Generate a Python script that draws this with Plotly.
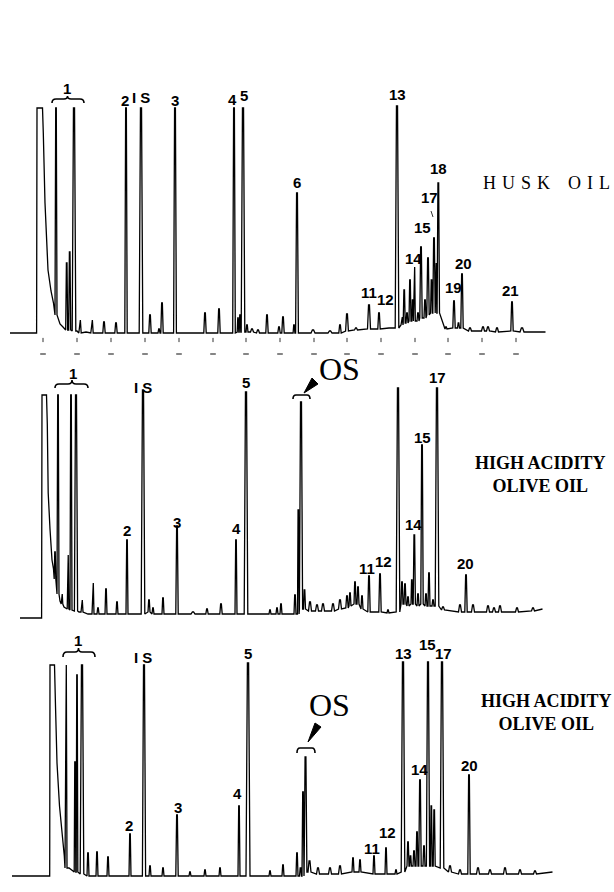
import plotly.graph_objects as go

W, H = 614, 892

# ---------------- data (x = chart position, h = response above baseline) ----------------
# HUSK OIL (top)
top_front_x = [10, 36.6, 37.0, 42.5, 43.3, 45, 48, 51, 53.5, 60, 63, 77, 86, 98]
top_front_h = [0, 0, 225, 225, 200, 130, 63, 42, 30, 9, 6, 2, 1, 0]
top_rt = [56, 66.7, 69.7, 74, 80, 92, 104, 116, 126, 141, 150, 159, 162, 175, 205, 219, 234, 238, 240,
          243, 247, 252, 258, 267, 279, 283, 294, 297, 313, 330, 340, 347, 356, 369, 379, 388, 397,
          402, 404.2, 407, 410, 412.6, 414.4, 418, 421, 425, 428, 431.5, 434, 436, 438.3, 446, 454, 458.5,
          462, 470, 483, 488, 497, 512, 522, 545]
top_apex = [225, 70, 81, 225, 13, 13, 11, 10, 225, 225, 18, 4, 30, 225, 20, 24, 225, 15, 18,
            225, 8, 4, 3, 18, 6, 16, 8, 140, 3, 2, 8, 19, 5, 28, 20, 5, 227,
            16, 43, 20, 53, 33, 66, 20, 86, 33, 75, 53, 95, 70, 150, 6, 32, 10,
            59, 5, 6, 6, 5, 31, 5, 1]
top_foot = [18, 3, 3, 2, 0, 0, 0, 0, 0, 0, 0, 0, 0, 0, 0, 0, 0, 1, 1,
            1, 1, 1, 0, 0, 0, 0, 0, 0, 0, 0, 0, 2, 3, 4, 4, 5, 5,
            8, 10, 10, 12, 12, 12, 12, 15, 15, 18, 20, 20, 20, 20, 4, 5, 5,
            5, 2, 2, 2, 1, 2, 1, 1]
top_hw = [1.0, 1.0, 1.0, 1.8, 1.2, 1.2, 1.2, 1.2, 1.2, 1.8, 1.2, 1.0, 1.2, 1.4, 1.2, 1.2, 1.3, 0.8, 0.8,
          1.8, 1.0, 1.5, 1.5, 1.2, 1.2, 1.2, 0.9, 1.4, 2.0, 2.0, 1.2, 1.4, 1.5, 1.5, 1.2, 1.0, 1.8,
          1.0, 1.0, 1.0, 1.0, 0.8, 0.9, 1.0, 1.2, 1.0, 1.2, 0.9, 1.2, 0.8, 1.2, 1.0, 1.2, 1.0,
          1.2, 1.5, 1.5, 1.5, 1.5, 1.2, 2.0, 0.5]
time_marks = [43, 77, 111, 145, 179, 213, 246, 280, 314, 347, 381, 415, 448, 482, 516]

# HIGH ACIDITY OLIVE OIL (middle)
mid_front_x = [20, 41.6, 42.0, 46.5, 47.3, 48.2, 50, 52, 53.5, 56.5, 60, 64, 73.5, 79, 88]
mid_front_h = [-4, -4, 219, 219, 190, 121, 85, 54, 45, 25, 13, 7, 3, 2, 0]
mid_rt = [55, 58, 62, 68, 71, 76, 82, 93, 98, 106, 117, 127, 143, 149, 153, 163, 177, 193, 207, 221,
          236, 246, 270, 277, 281, 295, 298.3, 301, 304.5, 310, 317, 323, 333, 340, 347, 350, 355, 358,
          362, 369, 380, 388, 398, 402, 405, 408, 411.8, 414.3, 418, 422, 426, 429, 433, 437, 443,
          460, 466, 473, 488, 494, 500, 517, 533, 542]
mid_apex = [62, 219, 20, 59, 219, 219, 14, 31, 6, 25, 12, 74, 224, 14, 6, 16, 88, 2, 5, 10,
            74, 222, 4, 6, 10, 19, 104, 212, 24, 12, 9, 10, 10, 14, 18, 21, 32, 27,
            18, 38, 40, 4, 226, 32, 30, 17, 34, 79, 20, 169, 20, 41, 14, 226, 7,
            9, 39, 9, 8, 6, 8, 6, 6, 5]
mid_foot = [35, 20, 10, 5, 4, 3, 2, 0, 0, 0, 0, 0, 0, 2, 0, 0, 0, 0, 0, 0,
            0, 0, 0, 0, 0, 0, 0, 5, 5, 3, 3, 3, 3, 5, 6, 8, 10, 10,
            5, 2, 2, 1, 2, 10, 10, 8, 10, 10, 8, 10, 8, 8, 8, 8, 4,
            2, 2, 2, 2, 2, 2, 2, 3, 5]
mid_hw = [0.8, 1.0, 0.8, 0.8, 1.0, 1.6, 1.0, 1.0, 1.0, 1.0, 1.0, 1.0, 1.8, 1.0, 1.0, 1.0, 1.2, 2.0, 1.2, 1.2,
          1.0, 1.8, 1.0, 1.0, 1.0, 1.0, 0.8, 1.6, 1.0, 1.5, 1.5, 1.5, 1.5, 1.5, 1.2, 1.0, 1.0, 1.0,
          1.0, 1.2, 1.2, 1.0, 1.8, 1.0, 1.0, 1.0, 0.8, 1.1, 1.0, 1.2, 1.0, 1.0, 1.0, 1.8, 1.5,
          1.5, 1.2, 1.5, 1.5, 1.5, 1.5, 1.5, 1.5, 0.5]

# HIGH ACIDITY OLIVE OIL (bottom)
bot_front_x = [12, 49.7, 50.0, 54.5, 55.5, 57, 59.5, 62, 64.3, 69, 73, 79.5, 86, 100]
bot_front_h = [0, 0, 211, 211, 170, 113, 70, 46, 20, 8, 5, 3, 1, 0]
bot_rt = [66, 75, 77, 82, 88, 97, 108, 130, 144, 150, 163, 177, 190, 205, 220, 239, 248, 270, 283,
          297, 300.5, 303, 305.5, 309.5, 318, 330, 340, 353, 360, 374, 386, 396, 403, 408, 410.5,
          414, 417, 420, 424, 428, 431.3, 434.2, 442, 450, 460, 469, 478, 490, 505, 520, 535, 552]
bot_apex = [211, 114, 201, 211, 23, 24, 19, 42, 211, 10, 8, 61, 4, 6, 8, 70, 213, 5, 11,
            23, 8, 84, 119, 15, 8, 8, 10, 18, 16, 20, 28, 6, 214, 34, 20,
            25, 44, 96, 30, 214, 70, 66, 214, 10, 6, 101, 8, 6, 8, 6, 5, 4]
bot_foot = [8, 4, 4, 2, 0, 0, 0, 0, 0, 0, 0, 0, 0, 0, 0, 0, 0, 0, 0,
            0, 0, 0, 4, 4, 2, 2, 2, 4, 4, 2, 2, 2, 4, 10, 10,
            10, 10, 10, 10, 10, 10, 10, 8, 4, 2, 2, 2, 2, 2, 2, 2, 4]
bot_hw = [1.0, 0.8, 0.8, 1.8, 1.0, 1.0, 1.0, 1.0, 1.6, 1.0, 1.0, 1.2, 1.0, 1.0, 1.0, 1.0, 2.0, 1.0, 1.0,
          1.0, 1.0, 1.0, 1.4, 1.5, 1.5, 1.5, 1.5, 1.0, 1.0, 1.0, 1.0, 1.0, 1.8, 1.0, 0.9,
          1.0, 1.0, 1.2, 1.0, 1.6, 0.9, 1.0, 1.8, 1.5, 1.5, 1.2, 1.5, 1.5, 1.5, 1.5, 1.5, 0.5]

# peak labels (text, position, label height)
top_lab = ["1", "2", "I S", "3", "4", "5", "6", "11", "12", "13", "14", "15", "17", "18", "19", "20", "21"]
top_lab_x = [67, 125, 141, 175, 232, 244, 297, 369, 385, 397, 413, 422, 429, 438, 453, 463, 510]
top_lab_h = [244, 232, 235, 232, 233, 237, 150, 41, 34, 238, 75, 105, 135, 164, 46, 70, 43]

mid_lab = ["1", "I S", "2", "3", "4", "5", "11", "12", "14", "15", "17", "20"]
mid_lab_x = [73, 143, 127, 177, 236, 246, 367, 383, 413, 422, 437, 465]
mid_lab_h = [241, 227, 84, 92, 86, 232, 46, 53, 90, 177, 237, 51]

bot_lab = ["1", "I S", "2", "3", "4", "5", "11", "12", "13", "14", "15", "17", "20"]
bot_lab_x = [78, 143, 129, 178, 237, 248, 372, 387, 403, 419, 427, 443, 469]
bot_lab_h = [236, 219, 51, 69, 83, 223, 28, 44, 223, 107, 232, 223, 111]

NB = "\u00a0\u200a"
sample_names = [NB.join("HUSK") + NB * 3 + NB.join("OIL"),
                "HIGH ACIDITY<br>OLIVE OIL", "HIGH ACIDITY<br>OLIVE OIL"]


def build(fx, fh, rt, apex, foot, hw):
    pts = list(zip(fx, fh))
    for r, a, f, w in zip(rt, apex, foot, hw):
        pts += [(r - w, f), (r - 0.3 * w, a), (r + 0.3 * w, a), (r + w, f)]
    pts.sort(key=lambda p: p[0])
    return [p[0] for p in pts], [p[1] for p in pts]


# ---------------- layout geometry (pixel rows) ----------------
# (top row, bottom row, baseline row) per panel
panels = [(60, 365, 333), (365, 630, 614), (630, 892, 876)]

fig = go.Figure()
traces = [
    build(top_front_x, top_front_h, top_rt, top_apex, top_foot, top_hw),
    build(mid_front_x, mid_front_h, mid_rt, mid_apex, mid_foot, mid_hw),
    build(bot_front_x, bot_front_h, bot_rt, bot_apex, bot_foot, bot_hw),
]
for i, (xs, ys) in enumerate(traces):
    sfx = "" if i == 0 else str(i + 1)
    fig.add_trace(go.Scatter(x=xs, y=ys, mode="lines", line=dict(color="black", width=1.3),
                             xaxis="x" + sfx, yaxis="y" + sfx, hoverinfo="skip", showlegend=False))

# time marks under top trace
fig.add_trace(go.Scatter(x=time_marks, y=[-7] * len(time_marks), mode="markers",
                         marker=dict(symbol="line-ns", size=3, line=dict(color="#333", width=1)),
                         xaxis="x", yaxis="y", hoverinfo="skip", showlegend=False))
fig.add_trace(go.Scatter(x=time_marks, y=[-21] * len(time_marks), mode="markers",
                         marker=dict(symbol="line-ew", size=4, line=dict(color="#333", width=1.2)),
                         xaxis="x", yaxis="y", hoverinfo="skip", showlegend=False))

layout = dict(width=W, height=H, margin=dict(l=0, r=0, t=0, b=0),
              paper_bgcolor="white", plot_bgcolor="white", showlegend=False)
for i, (r0, r1, rb) in enumerate(panels):
    sfx = "" if i == 0 else str(i + 1)
    layout["xaxis" + sfx] = dict(range=[0, W], domain=[0, 1], visible=False, fixedrange=True,
                                 anchor="y" + sfx)
    layout["yaxis" + sfx] = dict(range=[rb - r1, rb - r0], domain=[1 - r1 / H, 1 - r0 / H],
                                 visible=False, fixedrange=True, anchor="x" + sfx)
fig.update_layout(**layout)

lab_font = dict(family="Liberation Sans, Arial, sans-serif", size=15, color="black", weight="bold")
ann = []
for i, (lt, lx, lh) in enumerate([(top_lab, top_lab_x, top_lab_h),
                                  (mid_lab, mid_lab_x, mid_lab_h),
                                  (bot_lab, bot_lab_x, bot_lab_h)]):
    sfx = "" if i == 0 else str(i + 1)
    for t, x, h in zip(lt, lx, lh):
        ann.append(dict(x=x, y=h, xref="x" + sfx, yref="y" + sfx, text=t, showarrow=False,
                        font=lab_font, xanchor="center", yanchor="middle"))

serif = "Liberation Serif, Times New Roman, serif"
# sample names (paper coords from pixel positions)
name_pos = [(546, 183, 18, "normal"), (540, 474, 18, "bold"), (546, 712, 18, "bold")]
for (px, py, fs, fw), txt in zip(name_pos, sample_names):
    ann.append(dict(x=px / W, y=1 - py / H, xref="paper", yref="paper", text=txt, showarrow=False,
                    font=dict(family=serif, size=fs, color="black", weight=fw),
                    xanchor="center", yanchor="middle"))
# OS labels
ann.append(dict(x=339, y=245, xref="x2", yref="y2", text="OS", showarrow=False,
                font=dict(family=serif, size=32, color="black"), xanchor="center", yanchor="middle"))
ann.append(dict(x=329, y=171, xref="x3", yref="y3", text="OS", showarrow=False,
                font=dict(family=serif, size=32, color="black"), xanchor="center", yanchor="middle"))
fig.update_layout(annotations=ann)

shapes = []
ln = dict(color="black", width=1.6)
# braces over group 1
shapes.append(dict(type="path", xref="x", yref="y", line=ln,
                   path="M 52,230 Q 52,234 56,234 L 64,234 Q 67.5,234 67.5,237 Q 67.5,234 71,234 L 80,234 Q 84,234 84,230"))
shapes.append(dict(type="path", xref="x2", yref="y2", line=ln,
                   path="M 55,226 Q 55,230 59,230 L 68,230 Q 72,230 72,234 Q 72,230 76,230 L 84,230 Q 88,230 88,226"))
shapes.append(dict(type="path", xref="x3", yref="y3", line=ln,
                   path="M 63,219 Q 63,224 67,224 L 75,224 Q 78.5,224 78.5,228 Q 78.5,224 82,224 L 91,224 Q 95,224 95,219"))
# OS brackets and wedge arrows
shapes.append(dict(type="path", xref="x2", yref="y2", line=ln,
                   path="M 293,215 Q 293,219 296,219 L 307,219 Q 310,219 310,215"))
shapes.append(dict(type="path", xref="x3", yref="y3", line=ln,
                   path="M 297,123 Q 297,128 300,128 L 312,128 Q 315,128 315,123"))
shapes.append(dict(type="path", xref="x2", yref="y2", line=dict(color="black", width=1),
                   fillcolor="black", path="M 304,221 L 312,236 L 318,230 Z"))
shapes.append(dict(type="path", xref="x3", yref="y3", line=dict(color="black", width=1),
                   fillcolor="black", path="M 308,134 L 315,153 L 321,149 Z"))
# pointer from label 17 (top)
shapes.append(dict(type="line", xref="x", yref="y", x0=431, y0=122, x1=433, y1=116,
                   line=dict(color="black", width=0.8)))
fig.update_layout(shapes=shapes)

fig.write_html("out.html", config={"displayModeBar": False},
               post_script="document.body.style.margin='0';document.body.style.overflow='hidden';")
